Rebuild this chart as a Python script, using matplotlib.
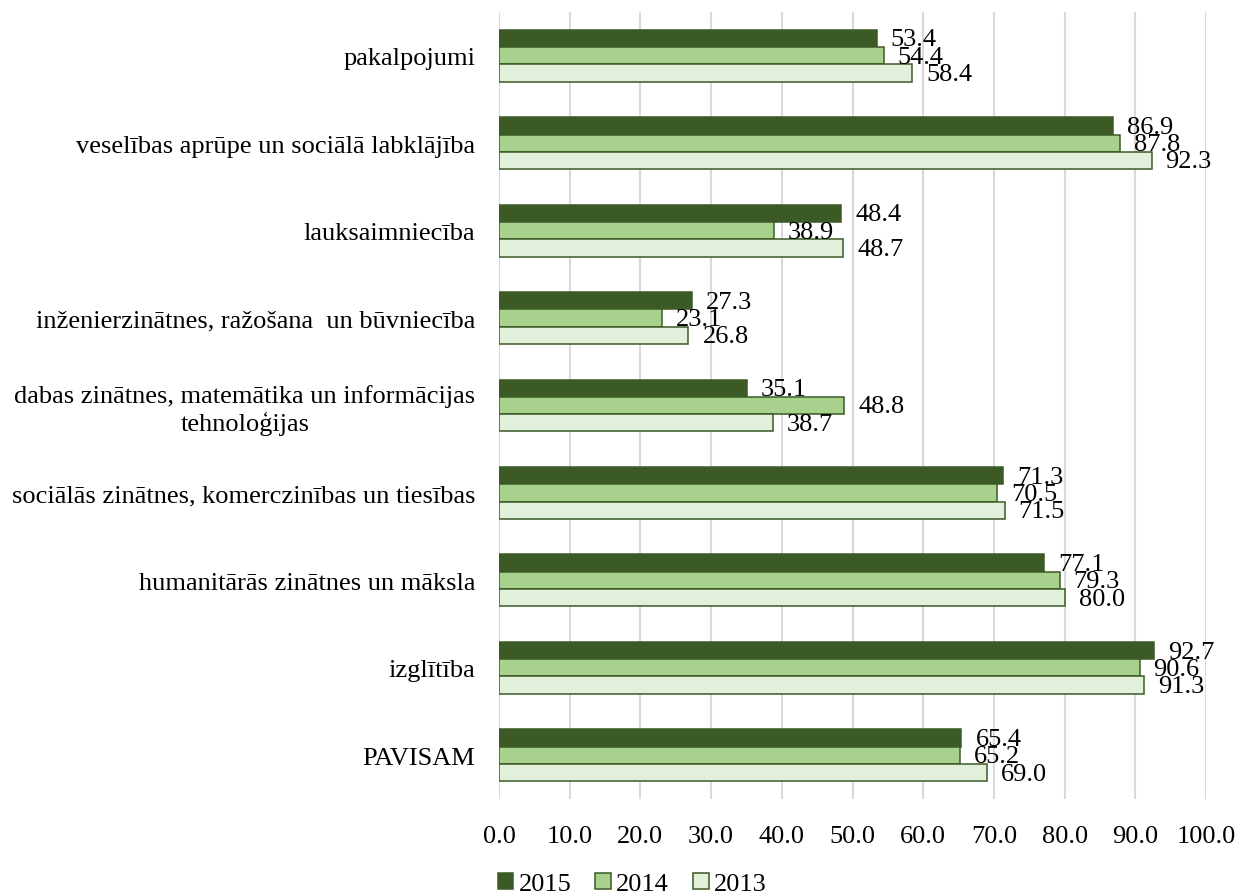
import matplotlib
matplotlib.use("Agg")
import matplotlib.pyplot as plt
import numpy as np

plt.rcParams['font.family'] = ['Liberation Serif', 'DejaVu Serif']

categories = [
    "pakalpojumi",
    "veselības aprūpe un sociālā labklājība",
    "lauksaimniecība",
    "inženierzinātnes, ražošana  un būvniecība",
    "dabas zinātnes, matemātika un informācijas\ntehnoloģijas",
    "sociālās zinātnes, komerczinības un tiesības",
    "humanitārās zinātnes un māksla",
    "izglītība",
    "PAVISAM",
]
years = ["2015", "2014", "2013"]
v2015 = [53.4, 86.9, 48.4, 27.3, 35.1, 71.3, 77.1, 92.7, 65.4]
v2014 = [54.4, 87.8, 38.9, 23.1, 48.8, 70.5, 79.3, 90.6, 65.2]
v2013 = [58.4, 92.3, 48.7, 26.8, 38.7, 71.5, 80.0, 91.3, 69.0]
series = [v2015, v2014, v2013]
colors = ["#3B5A25", "#A9D18E", "#E2EFDA"]
edge = "#3B5A25"
xticks = [0, 10, 20, 30, 40, 50, 60, 70, 80, 90, 100]

FS = 19

fig = plt.figure(figsize=(12.37, 8.95), dpi=100)
ax = fig.add_axes([499/1237, 1-800/895, (1206-499)/1237, (800-13)/895])

n = len(categories)
y = np.arange(n)
h = 0.198
offsets = [-h, 0, h]
bars_list = []
for vals, col, off, yr in zip(series, colors, offsets, years):
    bars = ax.barh(y + off, vals, height=h, color=col, edgecolor=edge,
                   linewidth=1.1, label=yr, zorder=3)
    bars_list.append(bars)
    for b, v in zip(bars, vals):
        ax.annotate(f"{v:.1f}", xy=(b.get_width(), b.get_y() + b.get_height()/2),
                    xytext=(14, -1), textcoords="offset pixels",
                    ha="left", va="center", fontsize=FS, color="black", zorder=5)

ax.set_ylim(n - 0.5, -0.5)
ax.set_xlim(0, 100)
ax.set_yticks(y)
ax.set_yticklabels(categories, fontsize=FS, multialignment="center")
ax.set_xticks(xticks)
ax.set_xticklabels([f"{t:.1f}" for t in xticks], fontsize=FS)
ax.tick_params(axis="both", length=0)
ax.tick_params(axis="y", pad=17)
ax.tick_params(axis="x", pad=19)
for s in ax.spines.values():
    s.set_visible(False)
ax.grid(axis="x", color="#D9D9D9", linewidth=1.5, zorder=0)
ax.set_axisbelow(True)

fig.legend(handles=bars_list, labels=years, loc="lower center",
           bbox_to_anchor=(0.511, -0.028), ncol=3, frameon=False, fontsize=FS,
           handlelength=0.6, handleheight=0.6, handletextpad=0.2,
           columnspacing=0.9)

fig.savefig("out.png", dpi=100)
